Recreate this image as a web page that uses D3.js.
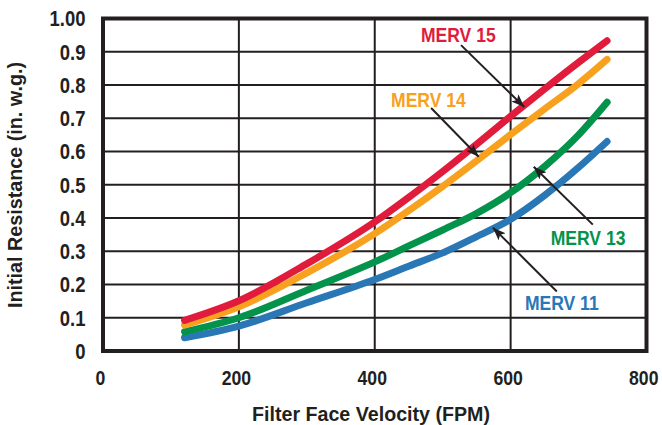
<!DOCTYPE html>
<html>
<head>
<meta charset="utf-8">
<script src="https://cdn.jsdelivr.net/npm/d3@7/dist/d3.min.js"></script>
<style>
  html, body { margin: 0; padding: 0; background: #fff; }
  svg { display: block; }
  text { font-family: "Liberation Sans", Arial, sans-serif; font-weight: bold; }
</style>
</head>
<body>
<svg id="chart" width="662" height="425"></svg>
<script>
// ---- data ----
const velocity = [120, 200, 300, 400, 450, 500, 550, 600, 650, 700, 742];
const merv15 = [0.092, 0.151, 0.262, 0.388, 0.462, 0.540, 0.622, 0.706, 0.788, 0.868, 0.933];
const merv14 = [0.078, 0.133, 0.235, 0.353, 0.422, 0.495, 0.572, 0.651, 0.728, 0.804, 0.877];
const merv13 = [0.058, 0.100, 0.183, 0.268, 0.316, 0.364, 0.414, 0.476, 0.555, 0.650, 0.748];
const merv11 = [0.040, 0.075, 0.145, 0.215, 0.255, 0.295, 0.344, 0.396, 0.468, 0.552, 0.630];
const xTicks = [0, 200, 400, 600, 800];
const yTicks = [0, 0.1, 0.2, 0.3, 0.4, 0.5, 0.6, 0.7, 0.8, 0.9, 1.0];
const yTickLabels = ["0", "0.1", "0.2", "0.3", "0.4", "0.5", "0.6", "0.7", "0.8", "0.9", "1.00"];
const seriesNames = ["MERV 15", "MERV 14", "MERV 13", "MERV 11"];
const seriesColors = ["#e11b3c", "#f8a11e", "#03934a", "#2a77b6"];
// label anchor (data units) and arrow from/to (data units)
const labelPos = [[468, 0.929], [424, 0.734], [659, 0.320], [621, 0.122]];
const arrowFrom = [[527, 0.920], [483, 0.731], [721, 0.380], [668, 0.179]];
const arrowTo = [[620, 0.734], [553, 0.584], [634, 0.554], [574, 0.371]];

const allSeries = [merv15, merv14, merv13, merv11];

// ---- layout ----
const svg = d3.select("#chart");
const x = d3.scaleLinear().domain([0, 800]).range([103, 646.5]);
const y = d3.scaleLinear().domain([0, 1]).range([351, 18.5]);

function narrow(sel, factor) {
  sel.each(function () {
    const w = this.getComputedTextLength();
    d3.select(this).attr("textLength", w * factor).attr("lengthAdjust", "spacingAndGlyphs");
  });
}

const defs = svg.append("defs");
defs.append("marker")
  .attr("id", "arrow")
  .attr("viewBox", "0 0 13 10")
  .attr("refX", 13).attr("refY", 5)
  .attr("markerWidth", 13).attr("markerHeight", 10)
  .attr("markerUnits", "userSpaceOnUse")
  .attr("orient", "auto")
  .append("path")
  .attr("d", "M0,0 L13,5 L0,10 L3,5 Z")
  .attr("fill", "#231f20");

// gridlines
const grid = svg.append("g");
grid.selectAll("line.h").data(yTicks.slice(1, -1)).join("line")
  .attr("x1", x(0)).attr("x2", x(800))
  .attr("y1", d => y(d)).attr("y2", d => y(d))
  .attr("stroke", "#231f20").attr("stroke-width", 2);
grid.selectAll("line.v").data(xTicks.slice(1, -1)).join("line")
  .attr("y1", y(0)).attr("y2", y(1))
  .attr("x1", d => x(d)).attr("x2", d => x(d))
  .attr("stroke", "#231f20").attr("stroke-width", 2);

// axes (labels only)
const xAxis = d3.axisBottom(x).tickValues(xTicks).tickSize(0).tickPadding(0).tickFormat(d3.format("d"));
const gx = svg.append("g").attr("transform", `translate(0,${y(0)})`).call(xAxis);
gx.select(".domain").remove();
gx.selectAll("text").attr("font-size", 21).attr("fill", "#231f20")
  .attr("font-family", null).attr("dy", null).attr("y", 33.5).attr("dx", -3)
  .call(narrow, 0.84);
// keep the last label inside the page: right-align it
gx.selectAll(".tick").filter(d => d === 800).select("text")
  .attr("text-anchor", "end").attr("dx", 11.5);

const yAxis = d3.axisLeft(y).tickValues(yTicks).tickSize(0).tickPadding(0)
  .tickFormat((d, i) => yTickLabels[i]);
const gy = svg.append("g").attr("transform", `translate(${x(0) - 17.5},0)`).call(yAxis);
gy.select(".domain").remove();
gy.selectAll("text").attr("font-size", 22).attr("fill", "#231f20")
  .attr("font-family", null).attr("dy", "0.33em").attr("x", 0)
  .call(narrow, 0.84);

// lines
const line = d3.line()
  .x((d, i) => x(velocity[i]))
  .y(d => y(d))
  .curve(d3.curveMonotoneX);

svg.append("g").selectAll("path").data(allSeries.slice().reverse()).join("path")
  .attr("d", d => line(d))
  .attr("fill", "none")
  .attr("stroke", (d, i) => seriesColors[3 - i])
  .attr("stroke-width", 7)
  .attr("stroke-linecap", "round")
  .attr("stroke-linejoin", "round");

// frame
svg.append("rect")
  .attr("x", x(0)).attr("y", y(1))
  .attr("width", x(800) - x(0)).attr("height", y(0) - y(1))
  .attr("fill", "none").attr("stroke", "#231f20").attr("stroke-width", 4);

// arrows
svg.append("g").selectAll("line").data(arrowFrom).join("line")
  .attr("x1", d => x(d[0])).attr("y1", d => y(d[1]))
  .attr("x2", (d, i) => x(arrowTo[i][0])).attr("y2", (d, i) => y(arrowTo[i][1]))
  .attr("stroke", "#231f20").attr("stroke-width", 2)
  .attr("marker-end", "url(#arrow)");

// series labels
svg.append("g").selectAll("text").data(seriesNames).join("text")
  .attr("x", (d, i) => x(labelPos[i][0]))
  .attr("y", (d, i) => y(labelPos[i][1]))
  .attr("fill", (d, i) => seriesColors[i])
  .attr("font-size", 21)
  .text(d => d)
  .call(narrow, 0.835);

// axis titles
svg.append("text")
  .attr("x", 371).attr("y", 421)
  .attr("text-anchor", "middle").attr("font-size", 20.5).attr("fill", "#231f20")
  .text("Filter Face Velocity (FPM)")
  .attr("textLength", 238).attr("lengthAdjust", "spacingAndGlyphs");
svg.append("text")
  .attr("transform", "translate(22,185) rotate(-90)")
  .attr("text-anchor", "middle").attr("font-size", 20.5).attr("fill", "#231f20")
  .text("Initial Resistance (in. w.g.)")
  .attr("textLength", 246).attr("lengthAdjust", "spacingAndGlyphs");
</script>
</body>
</html>
